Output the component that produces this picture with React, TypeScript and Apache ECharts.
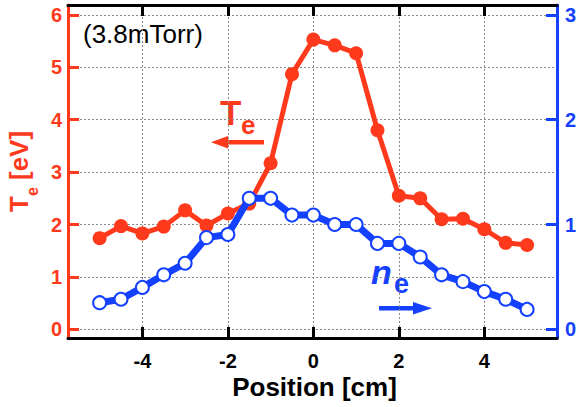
import React, { useEffect, useRef } from "react";
import * as echarts from "echarts";

const positions = [-5, -4.5, -4, -3.5, -3, -2.5, -2, -1.5, -1, -0.5, 0, 0.5, 1, 1.5, 2, 2.5, 3, 3.5, 4, 4.5, 5];
const teValues = [1.74, 1.97, 1.83, 1.96, 2.27, 1.98, 2.21, 2.4, 3.17, 4.87, 5.53, 5.42, 5.27, 3.8, 2.55, 2.5, 2.1, 2.11, 1.91, 1.65, 1.61];
const neValues = [0.254, 0.287, 0.4, 0.52, 0.63, 0.875, 0.905, 1.25, 1.25, 1.09, 1.09, 1.0, 1.0, 0.82, 0.82, 0.69, 0.52, 0.455, 0.36, 0.287, 0.19];
const xTicks = [-4, -2, 0, 2, 4];
const teTicks = [0, 1, 2, 3, 4, 5, 6];
const neTicks = [0, 1, 2, 3];

const RED = "#ff3a1c";
const BLUE = "#1440ff";
const FONT = "Liberation Sans, Arial, sans-serif";

export default function App() {
  const ref = useRef<HTMLDivElement>(null);
  useEffect(() => {
    if (!ref.current) return;
    const chart = echarts.init(ref.current, undefined, { renderer: "svg" });
    const teData = positions.map((p, i) => [p, teValues[i]]);
    const neData = positions.map((p, i) => [p, neValues[i]]);
    const option: any = {
      animation: false,
      backgroundColor: "#fff",
      grid: { left: 68, right: 24, top: 5, bottom: 69 },
      xAxis: [
        {
          type: "value",
          position: "bottom",
          min: -5.74,
          max: 5.7,
          axisLine: { show: true, onZero: false, lineStyle: { color: "#000", width: 3 } },
          axisTick: { show: true, inside: true, length: 11, lineStyle: { color: "#000", width: 3 }, customValues: xTicks },
          axisLabel: { show: true, margin: 13, color: "#000", fontSize: 20, fontWeight: "bold", fontFamily: FONT, customValues: xTicks },
          splitLine: { show: true, lineStyle: { color: "#8a8a8a", width: 1, type: [2, 2] } },
        },
        {
          type: "value",
          position: "top",
          min: -5.74,
          max: 5.7,
          axisLine: { show: true, onZero: false, lineStyle: { color: "#000", width: 3 } },
          axisTick: { show: true, inside: true, length: 11, lineStyle: { color: "#000", width: 3 }, customValues: xTicks },
          axisLabel: { show: false },
          splitLine: { show: false },
        },
      ],
      yAxis: [
        {
          type: "value",
          position: "left",
          min: -0.166,
          max: 6.19,
          axisLine: { show: true, onZero: false, lineStyle: { color: RED, width: 3 } },
          axisTick: { show: true, inside: true, length: 11, lineStyle: { color: RED, width: 3 }, customValues: teTicks },
          axisLabel: { show: true, margin: 6, color: RED, fontSize: 20, fontWeight: "bold", fontFamily: FONT, customValues: teTicks },
          splitLine: { show: true, lineStyle: { color: "#8a8a8a", width: 1, type: [2, 2] } },
        },
        {
          type: "value",
          position: "right",
          min: -0.083,
          max: 3.095,
          axisLine: { show: true, onZero: false, lineStyle: { color: BLUE, width: 3 } },
          axisTick: { show: true, inside: true, length: 11, lineStyle: { color: BLUE, width: 3 }, customValues: neTicks },
          axisLabel: { show: true, margin: 8, color: BLUE, fontSize: 20, fontWeight: "bold", fontFamily: FONT, customValues: neTicks },
          splitLine: { show: false },
        },
      ],
      series: [
        {
          name: "Te",
          type: "line",
          xAxisIndex: 0,
          yAxisIndex: 0,
          data: teData,
          symbol: "circle",
          symbolSize: 14,
          lineStyle: { color: RED, width: 5 },
          itemStyle: { color: RED },
          z: 3,
        },
        {
          name: "ne",
          type: "line",
          xAxisIndex: 0,
          yAxisIndex: 1,
          data: neData,
          symbol: "circle",
          symbolSize: 13,
          lineStyle: { color: BLUE, width: 7 },
          itemStyle: { color: "#fff", borderColor: BLUE, borderWidth: 2 },
          z: 4,
        },
      ],
      graphic: [
        { type: "text", x: 83, y: 34, style: { text: "(3.8mTorr)", fill: "#000", font: `26px ${FONT}`, textAlign: "left", textVerticalAlign: "middle" } },
        { type: "text", x: 314.5, y: 387, style: { text: "Position [cm]", fill: "#000", font: `bold 26px ${FONT}`, textAlign: "center", textVerticalAlign: "middle" } },
        { type: "text", x: 19, y: 212, rotation: Math.PI / 2, style: { text: "T", fill: RED, font: `bold 26px ${FONT}`, textAlign: "left", textVerticalAlign: "middle" } },
        { type: "text", x: 32, y: 196, rotation: Math.PI / 2, style: { text: "e", fill: RED, font: `bold 16px ${FONT}`, textAlign: "left", textVerticalAlign: "middle" } },
        { type: "text", x: 19, y: 180, rotation: Math.PI / 2, style: { text: "[eV]", fill: RED, font: `bold 26px ${FONT}`, textAlign: "left", textVerticalAlign: "middle" } },
        { type: "text", x: 220, y: 112, style: { text: "T", fill: RED, font: `bold 35px ${FONT}`, textAlign: "left", textVerticalAlign: "middle" } },
        { type: "text", x: 241, y: 125, style: { text: "e", fill: RED, font: `bold 26px ${FONT}`, textAlign: "left", textVerticalAlign: "middle" } },
        { type: "rect", shape: { x: 224, y: 140, width: 40, height: 4.5 }, style: { fill: RED } },
        { type: "polygon", shape: { points: [[211, 142.3], [228, 136], [228, 148.6]] }, style: { fill: RED } },
        { type: "text", x: 371, y: 271.5, style: { text: "n", fill: BLUE, font: `italic bold 34px ${FONT}`, textAlign: "left", textVerticalAlign: "middle" } },
        { type: "text", x: 394, y: 283.5, style: { text: "e", fill: BLUE, font: `bold 27px ${FONT}`, textAlign: "left", textVerticalAlign: "middle" } },
        { type: "rect", shape: { x: 379, y: 306, width: 38, height: 4.5 }, style: { fill: BLUE } },
        { type: "polygon", shape: { points: [[432, 308.3], [413, 302], [413, 314.6]] }, style: { fill: BLUE } },
      ],
    };
    chart.setOption(option);
    return () => chart.dispose();
  }, []);
  return <div ref={ref} style={{ width: 581, height: 407, position: "absolute", left: 0, top: 0 }} />;
}
